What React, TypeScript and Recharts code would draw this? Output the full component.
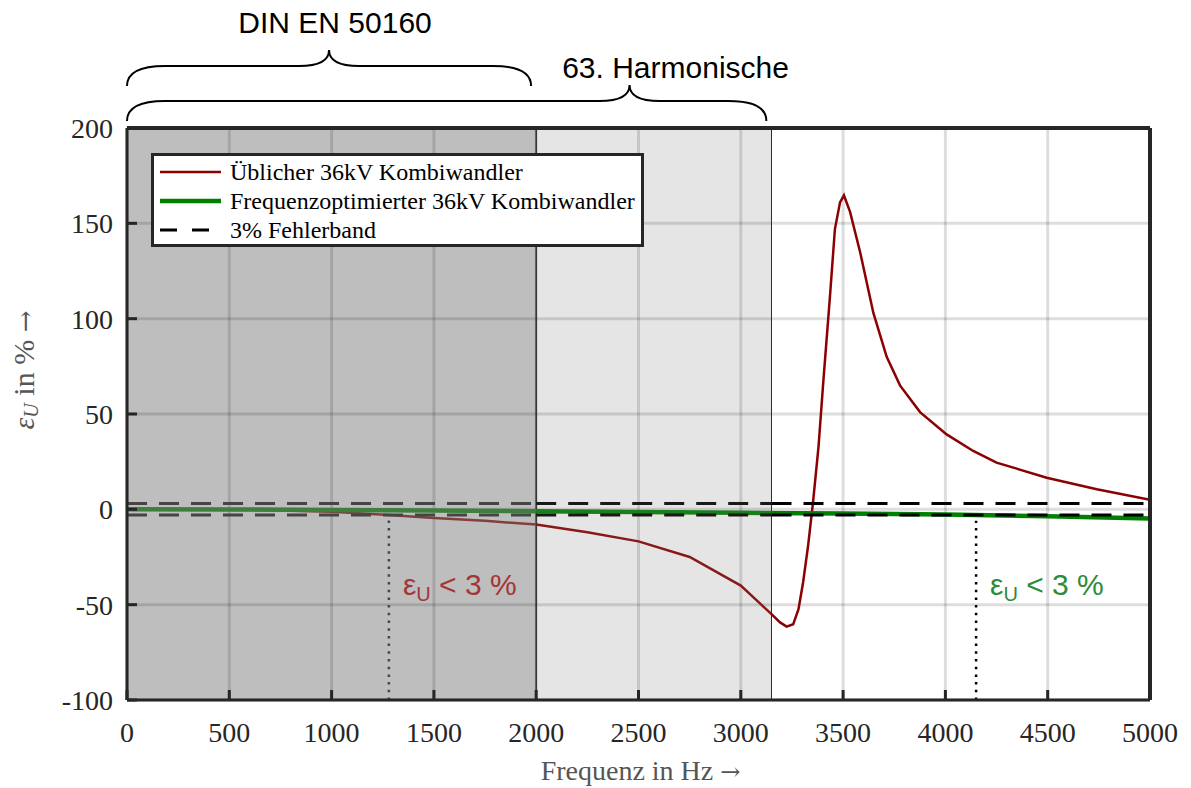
import React from 'react';
import {
  LineChart,
  Line,
  XAxis,
  YAxis,
  CartesianGrid,
  ReferenceLine,
  ReferenceArea,
  ReferenceDot,
} from 'recharts';

const freqTicks = [0, 500, 1000, 1500, 2000, 2500, 3000, 3500, 4000, 4500, 5000];
const errTicks = [-100, -50, 0, 50, 100, 150, 200];

// Üblicher 36kV Kombiwandler
const stdFreq = [
  0, 250, 500, 750, 1000, 1280, 1500, 1750, 2000, 2250, 2500, 2750, 3000, 3100, 3150, 3192, 3224,
  3256, 3282, 3305, 3329, 3353, 3380, 3404, 3436, 3460, 3485, 3504, 3534, 3583, 3648, 3713, 3778,
  3876, 4006, 4136, 4250, 4495, 4740, 5000,
];
const stdErr = [
  0, 0, -0.2, -0.6, -1.3, -3, -4.5, -6, -8, -12, -16.8, -25, -40, -50, -55, -59.3, -61.5,
  -60.3, -52.4, -38, -19, 3.7, 33, 68, 112, 147, 161, 164.7, 156, 135, 103, 80, 65,
  51, 39.3, 30.6, 24.5, 16.6, 10.5, 5,
];

// Frequenzoptimierter 36kV Kombiwandler
const optFreq = [0, 500, 1000, 1500, 2000, 2500, 3000, 3500, 4000, 4500, 5000];
const optErr = [0, -0.1, -0.3, -0.6, -1.0, -1.4, -1.8, -2.2, -2.7, -3.6, -4.8];

const freqMax = 5000;
const bandLimit = 3;
const dinLimit = 2000;
const harmonic63 = 3150;
const stdCross = 1280;
const optCross = 4150;

const stdData = stdFreq.map((f, i) => ({ f, e: stdErr[i] }));
const optData = optFreq.map((f, i) => ({ f, e: optErr[i] }));

const serif = '"Liberation Serif", "Times New Roman", serif';
const sans = '"Liberation Sans", Arial, sans-serif';
const frame = '#262626';
const red = '#8b0000';
const green = '#008000';

// colours of each line as seen through the dark (0-2000 Hz) and light (2000-3150 Hz) patches
const redShades = ['#843e3e', '#881919', red];
const greenShades = ['#3e7f3e', '#197f19', green];
const blackShades = ['#454545', '#191919', '#000'];

const legendItems = [
  { label: 'Üblicher 36kV Kombiwandler', color: red, width: 2.5, dash: undefined },
  { label: 'Frequenzoptimierter 36kV Kombiwandler', color: green, width: 4.5, dash: undefined },
  { label: '3% Fehlerband', color: '#000', width: 3, dash: '17 15' },
];

const bandSegments = [
  { from: 0, to: dinLimit, color: blackShades[0] },
  { from: dinLimit, to: harmonic63, color: blackShades[1] },
  { from: harmonic63, to: freqMax, color: blackShades[2] },
];

const Shaded = ({ id, shades }: { id: string; shades: string[] }) => {
  const a = dinLimit / freqMax;
  const b = harmonic63 / freqMax;
  return (
    <linearGradient id={id} x1="0" y1="0" x2="1" y2="0">
      <stop offset={0} stopColor={shades[0]} />
      <stop offset={a} stopColor={shades[0]} />
      <stop offset={a} stopColor={shades[1]} />
      <stop offset={b} stopColor={shades[1]} />
      <stop offset={b} stopColor={shades[2]} />
      <stop offset={1} stopColor={shades[2]} />
    </linearGradient>
  );
};

// curly brace above the plot, drawn from the reference area's pixel box
const Brace = (props: any) => {
  const { x, y, width, rise, tipFrac, text, textDx, textDy } = props;
  const x1 = x;
  const x2 = x + width;
  const yb = y - rise;
  const ym = yb - 20;
  const yt = ym - 16;
  const xm = x1 + width * tipFrac;
  const r = 38;
  const rt = 30;
  const d =
    `M${x1},${yb} Q${x1},${ym} ${x1 + r},${ym} L${xm - rt},${ym} Q${xm},${ym} ${xm},${yt} ` +
    `Q${xm},${ym} ${xm + rt},${ym} L${x2 - r},${ym} Q${x2},${ym} ${x2},${yb}`;
  return (
    <g>
      <path d={d} fill="none" stroke="#000" strokeWidth={2} />
      <text x={xm + textDx} y={yt + textDy} textAnchor="middle" fontFamily={sans} fontSize={30} fill="#000">
        {text}
      </text>
    </g>
  );
};

const ErrText = (props: any) => {
  const { cx, cy, color } = props;
  return (
    <text x={cx + 14} y={cy} fontFamily={sans} fontSize={30} fill={color}>
      <tspan>ε</tspan>
      <tspan fontSize={20} dy={6}>U</tspan>
      <tspan dy={-6}> &lt; 3 %</tspan>
    </text>
  );
};

const XLabel = ({ viewBox }: any) => (
  <text
    x={viewBox.x + viewBox.width / 2 + 2}
    y={viewBox.y + 80}
    textAnchor="middle"
    fontFamily={serif}
    fontSize={28}
    fill="#555"
  >
    Frequenz in Hz <tspan fontFamily="DejaVu Serif" fontSize={24}>→</tspan>
  </text>
);

const YLabel = ({ viewBox }: any) => {
  const cx = viewBox.x + 27;
  const cy = viewBox.y + viewBox.height / 2 - 44;
  return (
    <text
      x={cx}
      y={cy}
      transform={`rotate(-90, ${cx}, ${cy})`}
      textAnchor="middle"
      dominantBaseline="middle"
      fontFamily={serif}
      fontSize={30}
      fill="#555"
    >
      <tspan fontStyle="italic">ε</tspan>
      <tspan fontStyle="italic" fontSize={20} dy={6}>U</tspan>
      <tspan dy={-6}> in % </tspan>
      <tspan fontFamily="DejaVu Serif" fontSize={26}>→</tspan>
    </text>
  );
};

export default function App() {
  return (
    <div style={{ position: 'absolute', left: 0, top: 0, width: 1191, height: 788, background: '#fff' }}>
      <LineChart width={1191} height={788} margin={{ top: 127, right: 40, left: 0, bottom: 0 }}>
        <defs>
          <Shaded id="redShade" shades={redShades} />
          <Shaded id="greenShade" shades={greenShades} />
        </defs>
        <CartesianGrid stroke="#000" strokeOpacity={0.135} strokeWidth={3} />
        <ReferenceArea x1={0} x2={dinLimit} fill="#000" fillOpacity={0.255} stroke="#2b2b2b" strokeWidth={1} />
        <ReferenceArea x1={dinLimit} x2={harmonic63} fill="#000" fillOpacity={0.1} stroke="#2b2b2b" strokeWidth={1} />
        <XAxis
          dataKey="f"
          type="number"
          domain={[0, freqMax]}
          ticks={freqTicks}
          interval={0}
          allowDataOverflow
          height={88}
          axisLine={{ stroke: frame, strokeWidth: 3 }}
          tickLine={{ stroke: frame, strokeWidth: 3 }}
          tickSize={-10}
          tickMargin={32}
          tick={{ fill: frame, fontFamily: serif, fontSize: 28 }}
          label={XLabel}
        />
        <XAxis
          xAxisId="top"
          orientation="top"
          type="number"
          domain={[0, freqMax]}
          ticks={freqTicks}
          interval={0}
          height={1}
          axisLine={{ stroke: frame, strokeWidth: 4 }}
          tickLine={{ stroke: frame, strokeWidth: 3 }}
          tickSize={-10}
          tickFormatter={() => ''}
        />
        <YAxis
          type="number"
          domain={[-100, 200]}
          ticks={errTicks}
          interval={0}
          allowDataOverflow
          width={127}
          axisLine={{ stroke: frame, strokeWidth: 3 }}
          tickLine={{ stroke: frame, strokeWidth: 3 }}
          tickSize={-10}
          tickMargin={24}
          tick={{ fill: frame, fontFamily: serif, fontSize: 28 }}
          label={YLabel}
        />
        <YAxis
          yAxisId="right"
          orientation="right"
          type="number"
          domain={[-100, 200]}
          ticks={errTicks}
          interval={0}
          width={1}
          axisLine={{ stroke: frame, strokeWidth: 4 }}
          tickLine={{ stroke: frame, strokeWidth: 3 }}
          tickSize={-10}
          tickFormatter={() => ''}
        />
        <Line
          data={stdData}
          dataKey="e"
          type="linear"
          stroke="url(#redShade)"
          strokeWidth={2.5}
          dot={false}
          isAnimationActive={false}
        />
        <Line
          data={optData}
          dataKey="e"
          type="linear"
          stroke="url(#greenShade)"
          strokeWidth={4.5}
          dot={false}
          isAnimationActive={false}
        />
        {bandSegments.flatMap((s) =>
          [bandLimit, -bandLimit].map((b) => (
            <ReferenceLine
              key={`${s.from}-${b}`}
              segment={[{ x: s.from, y: b }, { x: s.to, y: b }]}
              stroke={s.color}
              strokeWidth={3}
              strokeDasharray="20 12"
            />
          )),
        )}
        <ReferenceLine
          segment={[{ x: stdCross, y: -100 }, { x: stdCross, y: -3 }]}
          stroke={blackShades[0]}
          strokeWidth={2.5}
          strokeDasharray="2.5 5.2"
        />
        <ReferenceLine
          segment={[{ x: optCross, y: -100 }, { x: optCross, y: -6 }]}
          stroke="#000"
          strokeWidth={2.5}
          strokeDasharray="2.5 5.2"
        />
        <ReferenceArea
          x1={0}
          x2={1975}
          y1={199}
          y2={200}
          shape={(p: any) => <Brace {...p} rise={42} tipFrac={0.5} text="DIN EN 50160" textDx={6} textDy={-17} />}
        />
        <ReferenceArea
          x1={0}
          x2={3125}
          y1={199}
          y2={200}
          shape={(p: any) => <Brace {...p} rise={7} tipFrac={0.786} text="63. Harmonische" textDx={46} textDy={-7} />}
        />
        <ReferenceDot x={stdCross} y={-45} r={0} shape={(p: any) => <ErrText {...p} color="#a33636" />} />
        <ReferenceDot x={optCross} y={-45} r={0} shape={(p: any) => <ErrText {...p} color="#2e8b3a" />} />
      </LineChart>
      <div
        style={{
          position: 'absolute',
          left: 151,
          top: 153,
          width: 487,
          height: 88,
          border: `3px solid ${frame}`,
          background: '#fff',
          fontFamily: serif,
          fontSize: 24,
          color: '#000',
        }}
      >
        {legendItems.map((it, i) => (
          <div
            key={i}
            style={{ position: 'absolute', left: 4, top: 2 + i * 29, height: 28, display: 'flex', alignItems: 'center', whiteSpace: 'nowrap' }}
          >
            <svg width={66} height={10}>
              <line x1={2} y1={5} x2={63} y2={5} stroke={it.color} strokeWidth={it.width} strokeDasharray={it.dash} />
            </svg>
            <span style={{ marginLeft: 6 }}>{it.label}</span>
          </div>
        ))}
      </div>
    </div>
  );
}
